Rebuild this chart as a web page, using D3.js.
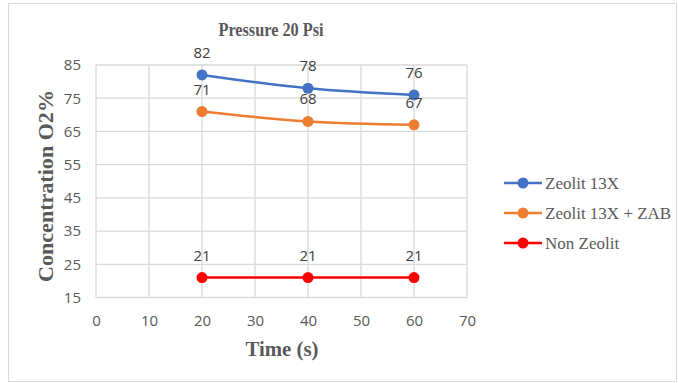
<!DOCTYPE html>
<html>
<head>
<meta charset="utf-8">
<script src="https://cdn.jsdelivr.net/npm/d3@7"></script>
<style>
  html, body { margin: 0; padding: 0; background: #fff; }
  svg { display: block; }
</style>
</head>
<body>
<div id="chart"></div>
<script>
const W = 678, H = 383;

// data
const times = [20, 40, 60];
const zeolit13x = [82, 78, 76];
const zeolitZab = [71, 68, 67];
const nonZeolit = [21, 21, 21];

const seriesNames = ["Zeolit 13X", "Zeolit 13X + ZAB", "Non Zeolit"];
const seriesColors = ["#4472C4", "#ED7D31", "#FF0000"];
const xTicks = [0, 10, 20, 30, 40, 50, 60, 70];
const yTicks = [15, 25, 35, 45, 55, 65, 75, 85];

const series = [zeolit13x, zeolitZab, nonZeolit].map((vals, i) => ({
  name: seriesNames[i],
  color: seriesColors[i],
  points: vals.map((v, j) => ({ x: times[j], y: v }))
}));

const svg = d3.select("#chart").append("svg").attr("width", W).attr("height", H);

// outer chart border
svg.append("rect")
  .attr("x", 8.5).attr("y", 3.5)
  .attr("width", 668).attr("height", 378)
  .attr("fill", "#fff").attr("stroke", "#d9d9d9");

const x = d3.scaleLinear().domain([0, 70]).range([96, 467]);
const y = d3.scaleLinear().domain([15, 85]).range([297.5, 65]);

// gridlines
const grid = svg.append("g");
grid.selectAll(".gx").data(xTicks).enter().append("line")
  .attr("x1", d => x(d)).attr("x2", d => x(d))
  .attr("y1", y(15)).attr("y2", y(85))
  .attr("stroke", "#d9d9d9").attr("stroke-width", 1.3);
grid.selectAll(".gy").data(yTicks).enter().append("line")
  .attr("x1", x(0)).attr("x2", x(70))
  .attr("y1", d => y(d)).attr("y2", d => y(d))
  .attr("stroke", "#d9d9d9").attr("stroke-width", 1.3);

// axes (labels only)
const xAxis = svg.append("g")
  .attr("transform", `translate(0,${y(15)})`)
  .call(d3.axisBottom(x).tickValues(xTicks).tickSize(0).tickPadding(18));
const yAxis = svg.append("g")
  .attr("transform", `translate(${x(0)},0)`)
  .call(d3.axisLeft(y).tickValues(yTicks).tickSize(0).tickPadding(15));
[xAxis, yAxis].forEach(a => {
  a.select(".domain").remove();
  a.selectAll("text")
    .attr("fill", "#595959")
    .style("font-family", "'Open Sans', sans-serif")
    .style("font-size", "15px");
});

// lines
const line = d3.line().x(d => x(d.x)).y(d => y(d.y)).curve(d3.curveMonotoneX);
series.forEach(s => {
  svg.append("path")
    .datum(s.points)
    .attr("d", line)
    .attr("fill", "none")
    .attr("stroke", s.color)
    .attr("stroke-width", 2.5);
  svg.selectAll(null).data(s.points).enter().append("circle")
    .attr("cx", d => x(d.x)).attr("cy", d => y(d.y))
    .attr("r", 5.5)
    .attr("fill", s.color);
  svg.selectAll(null).data(s.points).enter().append("text")
    .attr("x", d => x(d.x)).attr("y", d => y(d.y) - 17)
    .attr("text-anchor", "middle")
    .attr("fill", "#404040")
    .style("font-family", "'Open Sans', sans-serif")
    .style("font-size", "15px")
    .text(d => d.y);
});

// title & axis titles (narrow, tall serif like the reference)
svg.append("text")
  .attr("x", 271).attr("y", 36)
  .attr("text-anchor", "middle")
  .attr("fill", "#595959")
  .attr("textLength", 105)
  .attr("lengthAdjust", "spacingAndGlyphs")
  .style("font-family", "'Liberation Serif', serif")
  .style("font-weight", "bold")
  .style("font-size", "19px")
  .text("Pressure 20 Psi");

svg.append("text")
  .attr("x", 282).attr("y", 356)
  .attr("text-anchor", "middle")
  .attr("fill", "#595959")
  .attr("textLength", 73)
  .attr("lengthAdjust", "spacingAndGlyphs")
  .style("font-family", "'Liberation Serif', serif")
  .style("font-weight", "bold")
  .style("font-size", "21px")
  .text("Time (s)");

svg.append("text")
  .attr("transform", "translate(53,186) rotate(-90)")
  .attr("text-anchor", "middle")
  .attr("fill", "#595959")
  .attr("textLength", 192)
  .attr("lengthAdjust", "spacingAndGlyphs")
  .style("font-family", "'Liberation Serif', serif")
  .style("font-weight", "bold")
  .style("font-size", "21px")
  .text("Concentration O2%");

// legend
const legend = svg.append("g");
series.forEach((s, i) => {
  const ly = 183 + i * 30;
  legend.append("line")
    .attr("x1", 504).attr("x2", 542).attr("y1", ly).attr("y2", ly)
    .attr("stroke", s.color).attr("stroke-width", 2.5);
  legend.append("circle")
    .attr("cx", 523).attr("cy", ly).attr("r", 5.5).attr("fill", s.color);
  legend.append("text")
    .attr("x", 545).attr("y", ly + 5.5)
    .attr("fill", "#595959")
    .style("font-family", "'Liberation Serif', serif")
    .style("font-size", "17px")
    .text(s.name);
});
</script>
</body>
</html>
